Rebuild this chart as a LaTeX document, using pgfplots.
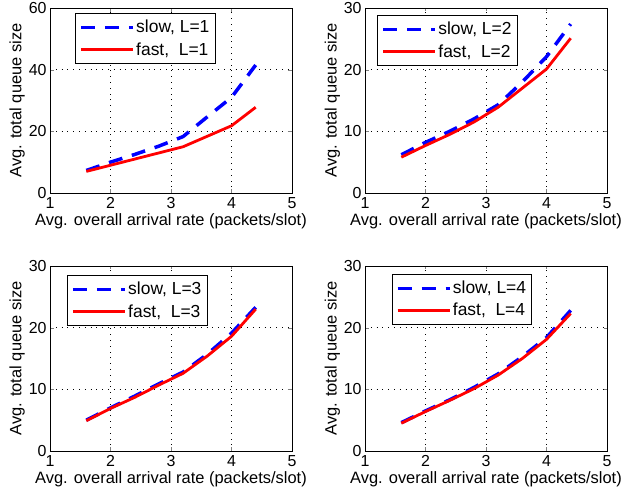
\documentclass[border=0pt]{standalone}
\usepackage{fontspec}
\setmainfont{Liberation Sans}
\usepackage{pgfplots}
\pgfplotsset{compat=1.18}
\definecolor{Slow}{HTML}{0000FF}
\definecolor{Fast}{HTML}{FF0000}
\pgfplotsset{qplot/.style={scale only axis,width=242bp,height=185bp,anchor=south west,
  xmin=1,xmax=5,xtick={1,2,3,4,5},ymin=0,
  tick align=inside,tick pos=both,major tick length=3.5bp,
  grid=major,grid style={black,line width=0.7pt,dash pattern=on 0.8bp off 5bp},
  axis line style={black,line width=0.6pt},
  /pgf/number format/assume math mode=true,
  tick label style={font=\fontsize{16}{19}\selectfont},
  label style={font=\fontsize{16.5}{19}\selectfont},
  xlabel={Avg. overall arrival rate (packets/slot)},
  ylabel={Avg. total queue size},
  xticklabel style={yshift=-1bp},
  xlabel style={yshift=2bp},ylabel style={yshift=-3bp},
  legend cell align=left,
  legend style={anchor=north west,draw=black,line width=0.6pt,font=\fontsize{17.5}{20}\selectfont,
    inner xsep=4bp,inner ysep=4bp,row sep=2bp,nodes={inner xsep=1.5bp,inner ysep=3bp}}},
  slow/.style={color=Slow,line width=3.5bp,dash pattern=on 14bp off 10bp,no marks,
    legend image code/.code={\draw[##1] (5bp,0bp) -- (57bp,0bp);}},
  fast/.style={color=Fast,line width=2.8bp,solid,no marks,
    legend image code/.code={\draw[##1] (5bp,0bp) -- (57bp,0bp);}}}
\begin{document}
\begin{tikzpicture}
\useasboundingbox (0bp,0bp) rectangle (630bp,504bp);
\begin{axis}[qplot,at={(50bp,311bp)},ymax=60,ytick={0,20,40,60},legend style={at={(0.103,0.973)}}]
\addplot[slow] coordinates {(1.6,7.3) (2.0,10.0) (2.4,12.5) (2.8,15.2) (3.2,18.3) (3.6,24.7) (4.0,31.0) (4.4,41.5)};
\addlegendentry{slow, L=1}
\addplot[fast] coordinates {(1.6,7.0) (2.0,9.0) (2.4,11.0) (2.8,13.0) (3.2,15.0) (3.6,18.4) (4.0,21.8) (4.4,27.8)};
\addlegendentry{fast,\ \ L=1}
\end{axis}
\begin{axis}[qplot,at={(365bp,311bp)},ymax=30,ytick={0,10,20,30},legend style={at={(0.05,0.962)}}]
\addplot[slow] coordinates {(1.6,6.2) (2.0,8.2) (2.4,10.0) (2.8,12.0) (3.2,14.3) (3.6,18.0) (4.0,22.1) (4.4,27.4)};
\addlegendentry{slow, L=2}
\addplot[fast] coordinates {(1.6,5.8) (2.0,7.7) (2.4,9.5) (2.8,11.5) (3.2,13.9) (3.6,17.0) (4.0,20.1) (4.4,25.1)};
\addlegendentry{fast,\ \ L=2}
\end{axis}
\begin{axis}[qplot,at={(50bp,53bp)},ymax=30,ytick={0,10,20,30},legend style={at={(0.07,0.951)}}]
\addplot[slow] coordinates {(1.6,5.0) (2.0,7.0) (2.4,8.9) (2.8,10.9) (3.2,12.8) (3.6,15.7) (4.0,19.1) (4.4,23.3)};
\addlegendentry{slow, L=3}
\addplot[fast] coordinates {(1.6,4.9) (2.0,6.9) (2.4,8.7) (2.8,10.7) (3.2,12.6) (3.6,15.4) (4.0,18.6) (4.4,23.0)};
\addlegendentry{fast,\ \ L=3}
\end{axis}
\begin{axis}[qplot,at={(365bp,53bp)},ymax=30,ytick={0,10,20,30},legend style={at={(0.11,0.957)}}]
\addplot[slow] coordinates {(1.6,4.6) (2.0,6.5) (2.4,8.3) (2.8,10.3) (3.2,12.5) (3.6,15.3) (4.0,18.4) (4.4,22.8)};
\addlegendentry{slow, L=4}
\addplot[fast] coordinates {(1.6,4.5) (2.0,6.4) (2.4,8.2) (2.8,10.1) (3.2,12.3) (3.6,15.0) (4.0,18.1) (4.4,22.3)};
\addlegendentry{fast,\ \ L=4}
\end{axis}
\end{tikzpicture}
\end{document}
